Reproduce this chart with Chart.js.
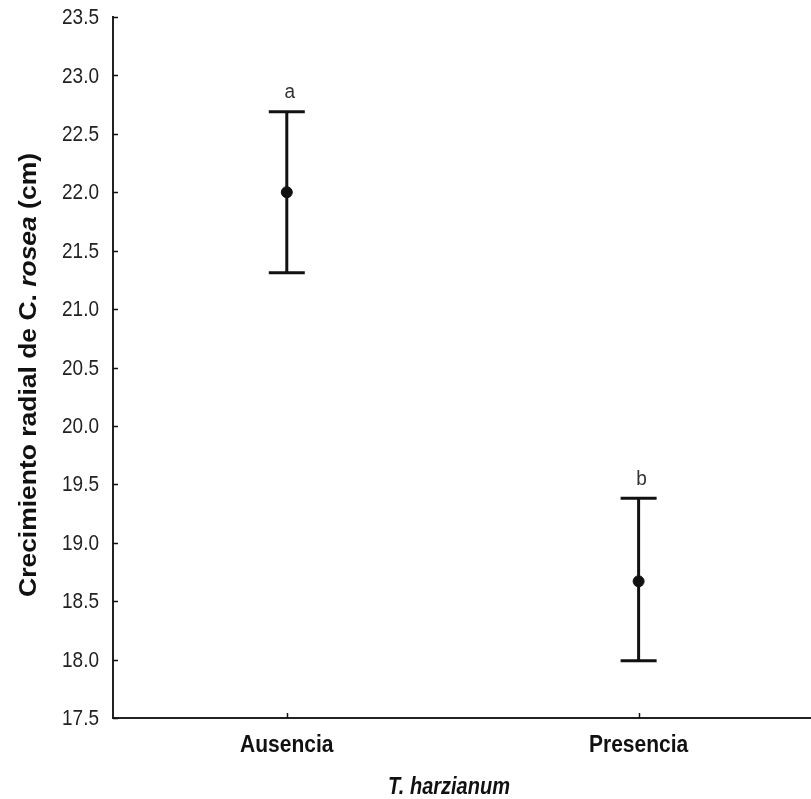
<!DOCTYPE html>
<html>
<head>
<meta charset="utf-8">
<script src="https://cdn.jsdelivr.net/npm/chart.js@4.4.0/dist/chart.umd.min.js"></script>
<style>
  html, body { margin: 0; padding: 0; background: #fff; }
  #wrap { width: 811px; height: 799px; }
</style>
</head>
<body>
<div id="wrap"><canvas id="chart" width="811" height="799"></canvas></div>
<script>
const categories = ['Ausencia', 'Presencia'];
const means = [22.0, 18.67];
const upper = [22.69, 19.38];
const lower = [21.31, 17.99];
const letters = ['a', 'b'];
const yTicks = [17.5, 18.0, 18.5, 19.0, 19.5, 20.0, 20.5, 21.0, 21.5, 22.0, 22.5, 23.0, 23.5];

const FONT = '"Liberation Sans", Arial, sans-serif';
const INK = '#111';
// the source figure is a bit taller than wide, text is stretched vertically
const STRETCH = 1.15;

function stretchedText(c, text, x, y, font, align, baseline, k) {
    c.save();
    c.font = font;
    c.textAlign = align;
    c.textBaseline = baseline;
    c.translate(x, y);
    c.scale(1, k);
    c.fillText(text, 0, 0);
    c.restore();
}

// error bars, letters, inward ticks, labels and axis titles
const ErrorBars = {
    id: 'errorBars',
    afterDatasetsDraw(chart) {
        const c = chart.ctx;
        const x = chart.scales.x;
        const y = chart.scales.y;
        const area = chart.chartArea;
        c.save();
        c.strokeStyle = INK;
        c.fillStyle = INK;

        // inward tick marks
        c.lineWidth = 1.5;
        yTicks.forEach(v => {
            const py = Math.round(y.getPixelForValue(v)) + 0.5;
            c.beginPath();
            c.moveTo(area.left, py);
            c.lineTo(area.left + 5, py);
            c.stroke();
        });
        categories.forEach((_, i) => {
            const px = Math.round(x.getPixelForValue(i)) + 0.5;
            c.beginPath();
            c.moveTo(px, area.bottom);
            c.lineTo(px, area.bottom - 5);
            c.stroke();
        });

        // tick labels
        c.fillStyle = '#222';
        yTicks.forEach(v => {
            stretchedText(c, v.toFixed(1), area.left - 14, y.getPixelForValue(v) + 1,
                '19px ' + FONT, 'right', 'middle', 1.17);
        });
        c.fillStyle = INK;
        categories.forEach((name, i) => {
            stretchedText(c, name, x.getPixelForValue(i), 752,
                'bold 21px ' + FONT, 'center', 'alphabetic', 1.12);
        });

        // error bars
        c.lineWidth = 3;
        categories.forEach((_, i) => {
            const px = x.getPixelForValue(i);
            const top = y.getPixelForValue(upper[i]);
            const bot = y.getPixelForValue(lower[i]);
            c.beginPath();
            c.moveTo(px, top);
            c.lineTo(px, bot);
            c.moveTo(px - 18, top);
            c.lineTo(px + 18, top);
            c.moveTo(px - 18, bot);
            c.lineTo(px + 18, bot);
            c.stroke();

            c.fillStyle = '#333';
            stretchedText(c, letters[i], px + 3, top - 19,
                '19px ' + FONT, 'center', 'middle', 1.05);
            c.fillStyle = INK;
        });

        // x title
        stretchedText(c, 'T. harzianum', 449, 794,
            'italic bold 20px ' + FONT, 'center', 'alphabetic', STRETCH);

        // y title with italic species name
        const parts = [
            ['bold 23px ' + FONT, 'Crecimiento radial de C. '],
            ['italic bold 23px ' + FONT, 'rosea'],
            ['bold 23px ' + FONT, ' (cm)']
        ];
        let total = 0;
        parts.forEach(p => { c.font = p[0]; total += c.measureText(p[1]).width; });
        c.translate(30, 375);
        c.rotate(-Math.PI / 2);
        c.scale(STRETCH, 1);
        c.textAlign = 'left';
        c.textBaseline = 'middle';
        let cx = -total / 2;
        parts.forEach(p => {
            c.font = p[0];
            c.fillText(p[1], cx, 0);
            cx += c.measureText(p[1]).width;
        });
        c.restore();
    }
};

const ctx = document.getElementById('chart');
new Chart(ctx, {
    type: 'scatter',
    data: {
        datasets: [{
            data: means.map((m, i) => ({ x: i, y: m })),
            backgroundColor: INK,
            borderColor: INK,
            pointRadius: 5.5,
            pointHoverRadius: 5.5
        }]
    },
    options: {
        responsive: false,
        animation: false,
        layout: {
            autoPadding: false,
            padding: { top: 17, right: 0, left: 0, bottom: 0 }
        },
        plugins: {
            legend: { display: false },
            tooltip: { enabled: false }
        },
        scales: {
            x: {
                type: 'linear',
                min: -0.494,
                max: 1.49,
                afterBuildTicks: scale => {
                    scale.ticks = categories.map((_, i) => ({ value: i }));
                },
                afterFit: scale => {
                    scale.height = 81;
                    scale.paddingLeft = 0;
                    scale.paddingRight = 0;
                },
                grid: { display: false },
                border: { display: true, color: '#222', width: 2 },
                ticks: { display: false },
                title: { display: false }
            },
            y: {
                min: 17.5,
                max: 23.5,
                afterBuildTicks: scale => {
                    scale.ticks = yTicks.map(v => ({ value: v }));
                },
                afterFit: scale => {
                    scale.width = 113;
                    scale.paddingTop = 0;
                    scale.paddingBottom = 0;
                },
                grid: { display: false },
                border: { display: true, color: '#222', width: 2 },
                ticks: { display: false },
                title: { display: false }
            }
        }
    },
    plugins: [ErrorBars]
});
</script>
</body>
</html>
